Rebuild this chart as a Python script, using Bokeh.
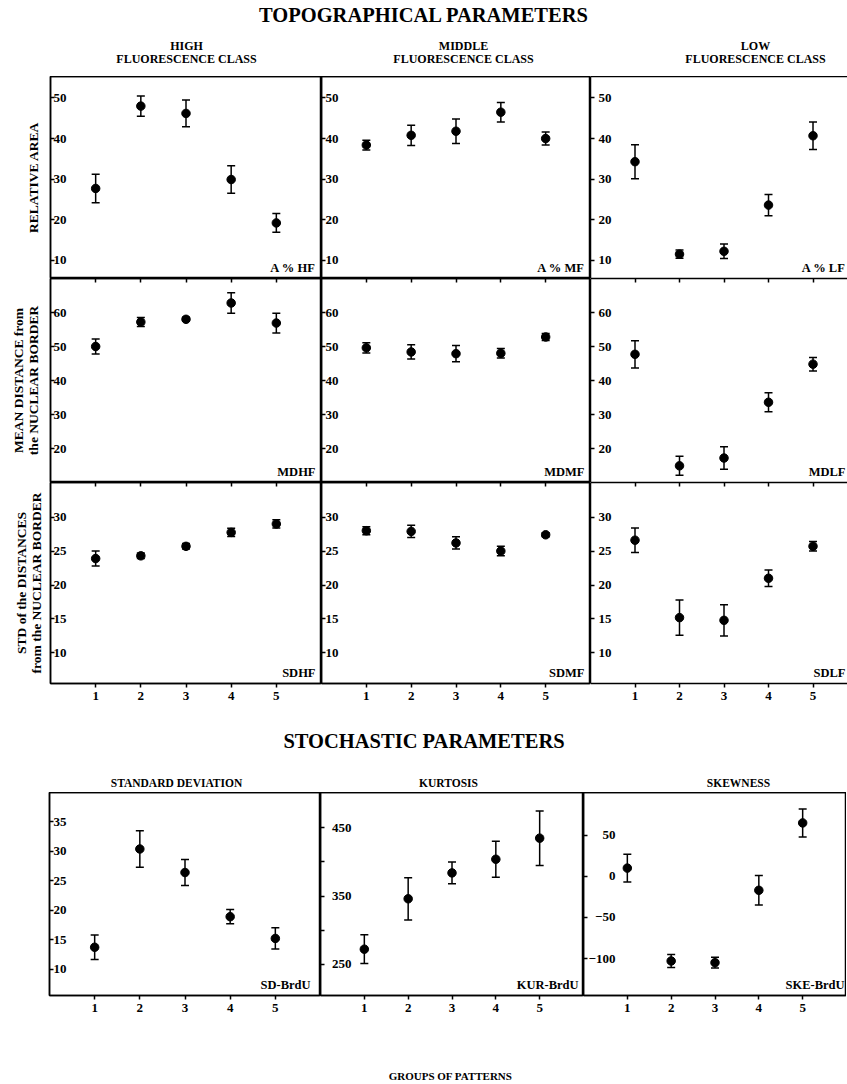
from bokeh.plotting import figure
from bokeh.layouts import column, row
from bokeh.models import (Range1d, LinearAxis, FixedTicker, Whisker, TeeHead,
                          ColumnDataSource, Label)
from bokeh.core.properties import value
from bokeh.embed import file_html
from bokeh.resources import INLINE

FONT = "Liberation Serif"

# ---------------- data ----------------
groups = [1, 2, 3, 4, 5]

area_hf = [27.7, 48.0, 46.2, 29.9, 19.2]
area_hf_err = [3.5, 2.5, 3.3, 3.4, 2.3]
area_mf = [38.4, 40.8, 41.8, 46.5, 40.0]
area_mf_err = [1.2, 2.5, 3.0, 2.4, 1.6]
area_lf = [34.3, 11.5, 12.2, 23.6, 40.7]
area_lf_err = [4.2, 1.0, 1.8, 2.6, 3.4]

md_hf = [50.0, 57.2, 58.0, 62.8, 56.9]
md_hf_err = [2.2, 1.3, 0.6, 3.0, 2.9]
md_mf = [49.6, 48.4, 47.9, 48.0, 52.8]
md_mf_err = [1.5, 2.1, 2.4, 1.4, 1.0]
md_lf = [47.7, 14.9, 17.2, 33.6, 44.8]
md_lf_err = [4.0, 2.8, 3.3, 2.8, 2.0]

sd_hf = [23.9, 24.3, 25.7, 27.75, 29.0]
sd_hf_err = [1.1, 0.4, 0.4, 0.6, 0.6]
sd_mf = [28.0, 27.9, 26.2, 25.0, 27.4]
sd_mf_err = [0.6, 0.9, 0.9, 0.7, 0.3]
sd_lf = [26.6, 15.2, 14.8, 21.0, 25.7]
sd_lf_err = [1.8, 2.6, 2.3, 1.2, 0.7]

sd_brdu = [13.7, 30.4, 26.4, 18.9, 15.2]
sd_brdu_err = [2.1, 3.1, 2.2, 1.2, 1.8]
kur_brdu = [272, 346, 384, 404, 435]
kur_brdu_err = [21, 31, 16, 26.5, 40]
ske_brdu = [10, -103, -105, -17, 65]
ske_brdu_err = [17, 8, 6.5, 18, 17]

ticks_area = [10, 20, 30, 40, 50]
ticks_md = [20, 30, 40, 50, 60]
ticks_sd = [10, 15, 20, 25, 30]
ticks_sdb = [10, 15, 20, 25, 30, 35]
ticks_kur = [250, 350, 450]
minor_kur = [300, 400]
ticks_ske = [-100, -50, 0, 50]

class_names = ["HIGH", "MIDDLE", "LOW"]
class_sub = "FLUORESCENCE CLASS"
stoch_names = ["STANDARD DEVIATION", "KURTOSIS", "SKEWNESS"]


def hide_labels(ax):
    ax.major_label_text_font_size = "0px"
    ax.major_label_text_color = None
    ax.major_label_text_alpha = 0
    ax.major_label_standoff = 0


def make_panel(vals, errs, code, width, height, left, bottom, x_end,
               y_start, y_end, ticks, standoff, minor=None, ticks_above=False,
               labels_below=False, ylabel=None, label_standoff=12,
               outline=True, code_dx=-6):
    p = figure(width=width, height=height, x_range=Range1d(0, x_end),
               y_range=Range1d(y_start, y_end), x_axis_location=None,
               y_axis_location=None, toolbar_location=None,
               output_backend="svg", title=None,
               min_border_left=left, min_border_right=0,
               min_border_top=0, min_border_bottom=bottom)
    p.grid.visible = False
    p.background_fill_color = "white"
    p.border_fill_color = "white"
    if outline:
        p.outline_line_color = "black"
        p.outline_line_width = 1.5
    else:
        p.outline_line_color = None

    yax = LinearAxis(ticker=FixedTicker(ticks=ticks, minor_ticks=minor or []))
    yax.major_tick_in = 4
    yax.major_tick_out = 0
    yax.minor_tick_in = 4 if minor else 0
    yax.minor_tick_out = 0
    yax.major_label_standoff = standoff
    yax.major_label_text_font = FONT
    yax.major_label_text_font_size = "13px"
    yax.major_label_text_font_style = "bold"
    yax.major_label_text_color = "black"
    yax.axis_line_width = 1.5
    yax.major_tick_line_width = 1.5
    yax.minor_tick_line_width = 1.5
    if ylabel:
        yax.axis_label = ylabel
        yax.axis_label_text_font = FONT
        yax.axis_label_text_font_size = "13.5px"
        yax.axis_label_text_font_style = "bold"
        yax.axis_label_text_color = "black"
        yax.axis_label_text_line_height = 0.95
        yax.axis_label_standoff = label_standoff
    p.add_layout(yax, "left")

    if ticks_above:
        top_ax = LinearAxis(ticker=FixedTicker(ticks=groups))
        top_ax.major_tick_in = 4
    else:
        top_ax = LinearAxis(ticker=FixedTicker(ticks=[]))
        top_ax.major_tick_in = 0
    top_ax.major_tick_out = 0
    top_ax.minor_tick_in = 0
    top_ax.minor_tick_out = 0
    hide_labels(top_ax)
    top_ax.axis_line_width = 1.5
    top_ax.major_tick_line_width = 1.5
    p.add_layout(top_ax, "above")

    bot_ax = LinearAxis(ticker=FixedTicker(ticks=groups if labels_below else []))
    bot_ax.major_tick_in = 0
    bot_ax.major_tick_out = 4 if labels_below else 0
    bot_ax.minor_tick_in = 0
    bot_ax.minor_tick_out = 0
    bot_ax.axis_line_width = 1.5
    bot_ax.major_tick_line_width = 1.5
    if labels_below:
        bot_ax.major_label_standoff = 4
        bot_ax.major_label_text_font = FONT
        bot_ax.major_label_text_font_size = "13px"
        bot_ax.major_label_text_font_style = "bold"
        bot_ax.major_label_text_color = "black"
    else:
        hide_labels(bot_ax)
    p.add_layout(bot_ax, "below")

    src = ColumnDataSource(dict(
        x=groups, y=vals,
        upper=[v + e for v, e in zip(vals, errs)],
        lower=[v - e for v, e in zip(vals, errs)]))
    p.add_layout(Whisker(source=src, base="x", upper="upper", lower="lower",
                         line_color="black", line_width=1.5,
                         upper_head=TeeHead(size=8, line_color="black", line_width=1.5),
                         lower_head=TeeHead(size=8, line_color="black", line_width=1.5)))
    p.scatter("x", "y", source=src, size=8.5, color="black")

    p.add_layout(Label(x=x_end, y=y_start, text=code, text_align="right",
                       text_baseline="bottom", x_offset=code_dx, y_offset=4,
                       text_font=FONT, text_font_size="12.5px",
                       text_font_style="bold", text_color="black"))
    return p


def text_fig(width, height, xs, ys, texts, sizes):
    # a plain band of headings; x and y are pixel positions in the band
    p = figure(width=width, height=height, x_range=Range1d(0, width),
               y_range=Range1d(height, 0), x_axis_location=None,
               y_axis_location=None, toolbar_location=None,
               output_backend="svg", title=None, min_border=0)
    p.grid.visible = False
    p.outline_line_color = None
    src = ColumnDataSource(dict(x=xs, y=ys, text=texts, size=sizes))
    p.text(x="x", y="y", text="text", source=src, text_align="center",
           text_baseline="middle", text_font=value(FONT),
           text_font_size="size", text_font_style="bold", text_color="black")
    return p


W1, W2, W3 = 321, 269, 257
XE3 = 5.775

header1 = text_fig(
    847, 76,
    [423.5, 186, 463, 755, 186, 463, 755],
    [14, 45, 45, 45, 58.5, 58.5, 58.5],
    ["TOPOGRAPHICAL PARAMETERS"] + class_names + [class_sub] * 3,
    ["20.5px"] + ["12px"] * 6)

# row 1 : relative area
r1 = [
    make_panel(area_hf, area_hf_err, "A % HF", W1, 202, 50, 0, 6, 5.5, 55.3,
               ticks_area, -16, ylabel="RELATIVE AREA", label_standoff=10),
    make_panel(area_mf, area_mf_err, "A % MF", W2, 202, 0, 0, 6, 5.5, 55.3,
               ticks_area, -17),
    make_panel(area_lf, area_lf_err, "A % LF", W3, 202, 0, 0, XE3, 5.5, 55.3,
               ticks_area, -21, outline=False, code_dx=-2),
]

# row 2 : mean distance
r2 = [
    make_panel(md_hf, md_hf_err, "MDHF", W1, 204, 50, 0, 6, 10, 70,
               ticks_md, -16, ticks_above=True,
               ylabel="MEAN DISTANCE from\nthe NUCLEAR BORDER", label_standoff=10),
    make_panel(md_mf, md_mf_err, "MDMF", W2, 204, 0, 0, 6, 10, 70,
               ticks_md, -17, ticks_above=True),
    make_panel(md_lf, md_lf_err, "MDLF", W3, 204, 0, 0, XE3, 10, 70,
               ticks_md, -21, ticks_above=True, outline=False, code_dx=-2),
]

# row 3 : std of distances
r3 = [
    make_panel(sd_hf, sd_hf_err, "SDHF", W1, 228, 50, 27, 6, 5.5, 35.1,
               ticks_sd, -16, ticks_above=True, labels_below=True,
               ylabel="STD of the DISTANCES\nfrom the NUCLEAR BORDER",
               label_standoff=7),
    make_panel(sd_mf, sd_mf_err, "SDMF", W2, 228, 0, 27, 6, 5.5, 35.1,
               ticks_sd, -17, ticks_above=True, labels_below=True),
    make_panel(sd_lf, sd_lf_err, "SDLF", W3, 228, 0, 27, XE3, 5.5, 35.1,
               ticks_sd, -21, ticks_above=True, labels_below=True,
               outline=False, code_dx=-2),
]

header2 = text_fig(
    847, 82,
    [423.5, 176, 448, 738],
    [30, 72, 72, 72],
    ["STOCHASTIC PARAMETERS"] + stoch_names,
    ["20.5px"] + ["11.5px"] * 3)

b = [
    make_panel(sd_brdu, sd_brdu_err, "SD-BrdU", 320, 228, 49, 25, 6, 5.5, 40,
               ticks_sdb, -17, labels_below=True, code_dx=-10),
    make_panel(kur_brdu, kur_brdu_err, "KUR-BrdU", 263, 228, 0, 25, 6, 204, 502,
               ticks_kur, -31, minor=minor_kur, labels_below=True, code_dx=-5),
    make_panel(ske_brdu, ske_brdu_err, "SKE-BrdU", 263, 228, 0, 25, 6, -145, 102,
               ticks_ske, -32, labels_below=True, code_dx=-2),
]

footer = text_fig(847, 62, [450], [55], ["GROUPS OF PATTERNS"], ["11px"])

layout = column(header1, row(*r1), row(*r2), row(*r3), header2, row(*b), footer,
                spacing=0)

open("out.html", "w").write(file_html(layout, INLINE))
